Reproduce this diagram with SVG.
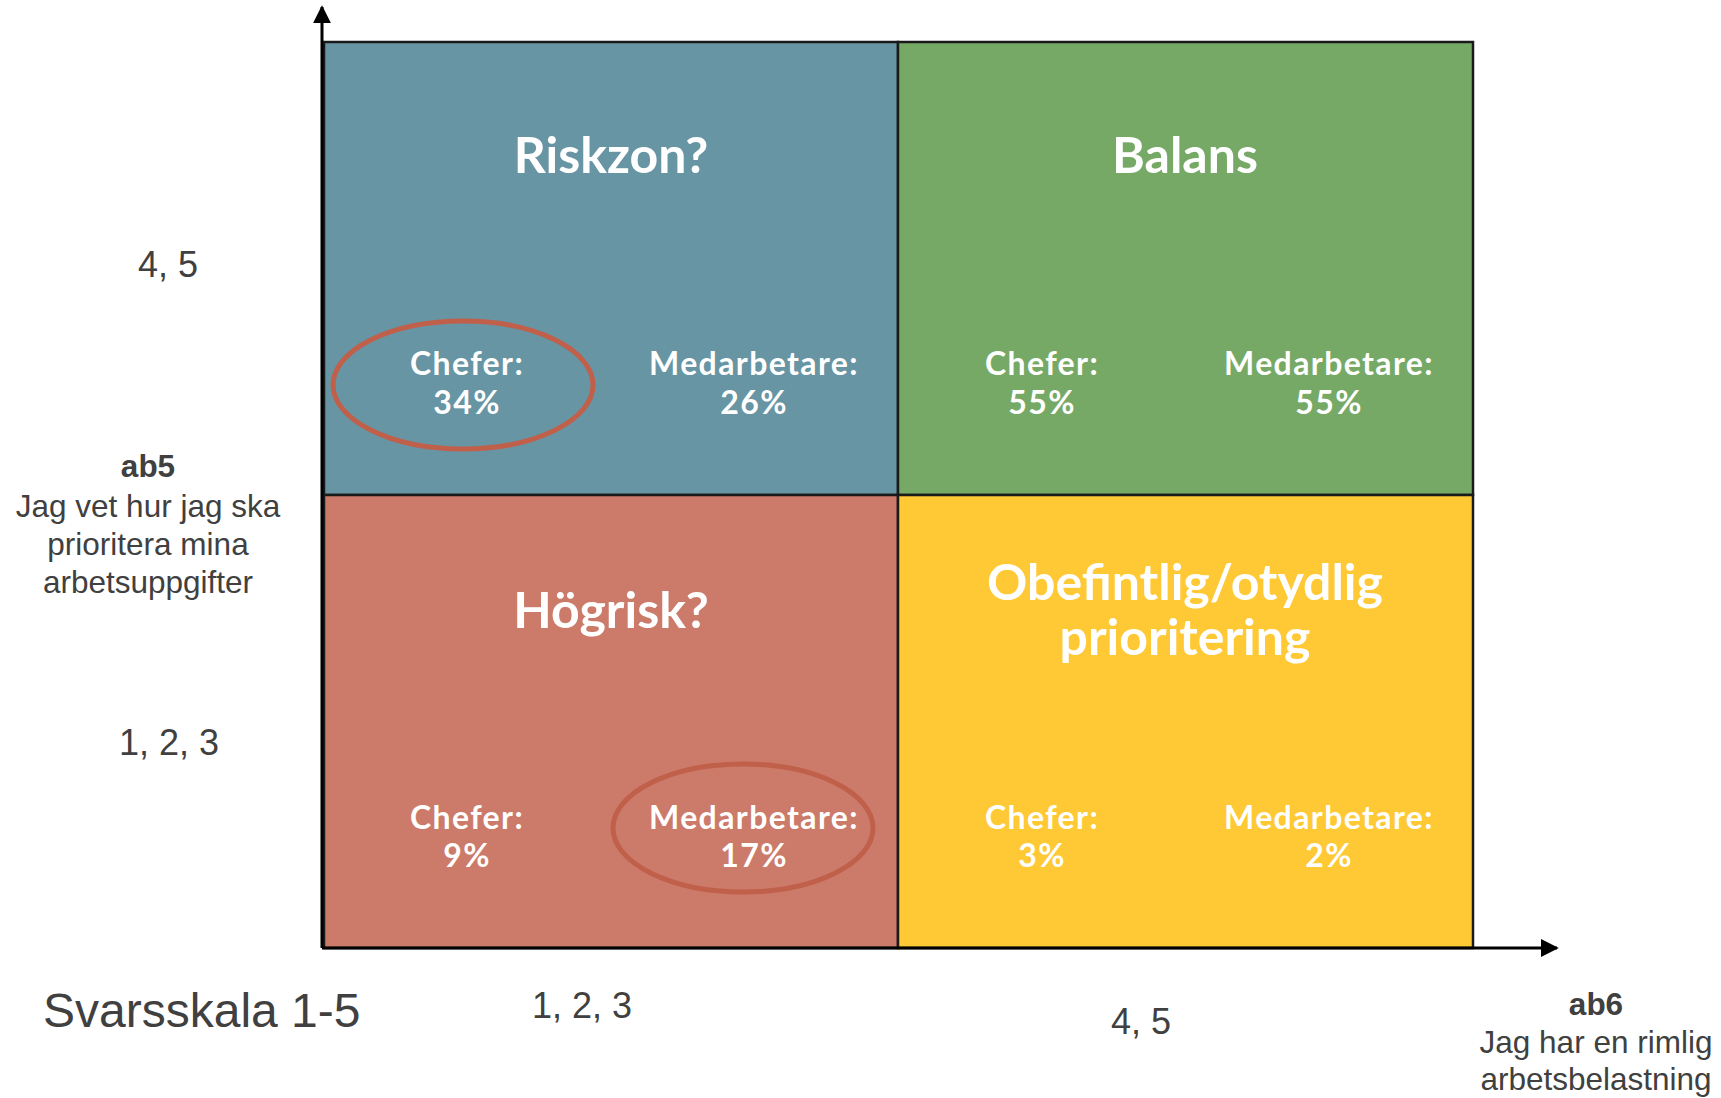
<svg xmlns="http://www.w3.org/2000/svg" width="1721" height="1098" viewBox="0 0 1721 1098">
<style>
.title{font-family:Lato,"Noto Sans",sans-serif;font-weight:bold;font-size:50px;fill:#fff;text-anchor:middle}
.stat{font-family:Lato,"Noto Sans",sans-serif;font-weight:bold;font-size:32px;letter-spacing:1.4px;fill:#fff;text-anchor:middle}
.lbl{font-family:"Liberation Sans",Arial,sans-serif;font-size:36px;fill:#404040;text-anchor:middle}
.q{font-family:"Liberation Sans",Arial,sans-serif;font-size:31.5px;fill:#404040;text-anchor:middle}
.qb{font-weight:bold}
.quad{stroke:#1a1a1a;stroke-width:2.5}
.ring{fill:none;stroke:#C0604A;stroke-width:5}
.axis{stroke:#000;stroke-width:3;fill:none}
</style>
<defs>
<marker id="arr" viewBox="0 0 10 10" refX="9" refY="5" markerWidth="6" markerHeight="6" markerUnits="strokeWidth" orient="auto">
<path d="M0,0 L10,5 L0,10 z" fill="#000"/>
</marker>
</defs>
<rect width="1721" height="1098" fill="#fff"/>
<g id="riskzon">
<rect class="quad" x="324" y="42" width="574" height="453" fill="#6795A3"/>
<text class="title" x="611" y="173">Riskzon?</text>
<text class="stat" x="467" y="375">Chefer:</text>
<text class="stat" x="467" y="414">34%</text>
<text class="stat" x="754" y="375">Medarbetare:</text>
<text class="stat" x="754" y="414">26%</text>
<ellipse class="ring" cx="463" cy="385" rx="130" ry="64"/>
</g>
<g id="balans">
<rect class="quad" x="898" y="42" width="575" height="453" fill="#76A966"/>
<text class="title" x="1185" y="173">Balans</text>
<text class="stat" x="1042" y="375">Chefer:</text>
<text class="stat" x="1042" y="414">55%</text>
<text class="stat" x="1329" y="375">Medarbetare:</text>
<text class="stat" x="1329" y="414">55%</text>
</g>
<g id="hogrisk">
<rect class="quad" x="324" y="495" width="574" height="453" fill="#CC7A69"/>
<text class="title" x="611" y="628">Högrisk?</text>
<text class="stat" x="467" y="829">Chefer:</text>
<text class="stat" x="467" y="867">9%</text>
<text class="stat" x="754" y="829">Medarbetare:</text>
<text class="stat" x="754" y="867">17%</text>
<ellipse class="ring" cx="743" cy="828" rx="130" ry="64"/>
</g>
<g id="obefintlig">
<rect class="quad" x="898" y="495" width="575" height="453" fill="#FEC934"/>
<text class="title" x="1185" y="600">Obefintlig/otydlig</text>
<text class="title" x="1185" y="655">prioritering</text>
<text class="stat" x="1042" y="829">Chefer:</text>
<text class="stat" x="1042" y="867">3%</text>
<text class="stat" x="1329" y="829">Medarbetare:</text>
<text class="stat" x="1329" y="867">2%</text>
</g>
<g id="connectors">
<line class="axis" x1="322" y1="948" x2="322" y2="7" marker-end="url(#arr)"/>
<line class="axis" x1="322" y1="948" x2="1557" y2="948" marker-end="url(#arr)"/>
</g>
<g id="y-axis-labels">
<text class="lbl" x="168" y="277">4, 5</text>
<text class="q qb" x="148" y="477">ab5</text>
<text class="q" x="148" y="517">Jag vet hur jag ska</text>
<text class="q" x="148" y="555">prioritera mina</text>
<text class="q" x="148" y="593">arbetsuppgifter</text>
<text class="lbl" x="169" y="755">1, 2, 3</text>
</g>
<g id="x-axis-labels">
<text x="43" y="1027" font-family="Liberation Sans, Arial, sans-serif" font-size="48" fill="#404040">Svarsskala 1-5</text>
<text class="lbl" x="582" y="1018">1, 2, 3</text>
<text class="lbl" x="1141" y="1034">4, 5</text>
<text class="q qb" x="1596" y="1015">ab6</text>
<text class="q" x="1596" y="1053">Jag har en rimlig</text>
<text class="q" x="1596" y="1090">arbetsbelastning</text>
</g>
</svg>
